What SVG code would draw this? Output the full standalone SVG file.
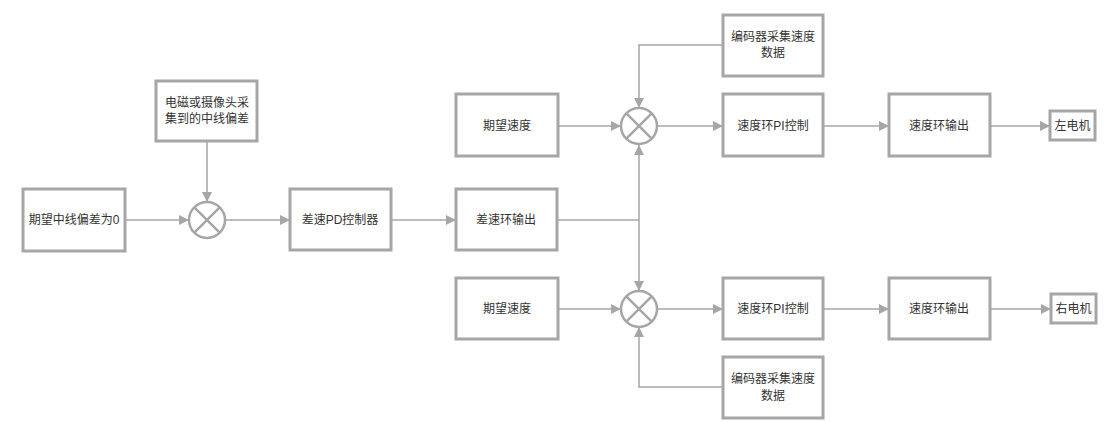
<svg xmlns="http://www.w3.org/2000/svg" width="1120" height="422" viewBox="0 0 1120 422">
<style>
.box{fill:#fff;stroke:#a6a6a6;stroke-width:3}
.sum{fill:#fff;stroke:#a6a6a6;stroke-width:2.5}
.x{stroke:#a6a6a6;stroke-width:2.5}
.t{font-family:"Liberation Sans","Noto Sans CJK SC",sans-serif;font-size:12px;fill:#333;text-anchor:middle;dominant-baseline:central}
.c{fill:none;stroke:#a6a6a6;stroke-width:1.5}
</style>
<defs>
<marker id="ah" viewBox="0 0 10 10" refX="10" refY="5" markerWidth="10" markerHeight="10" markerUnits="userSpaceOnUse" orient="auto">
<path d="M0,0 L10,5 L0,10 Z" fill="#a6a6a6"/>
</marker>
</defs>
<rect width="1120" height="422" fill="#fff"/>
<g id="connectors">
<path class="c" d="M125,220 H189" marker-end="url(#ah)"/>
<path class="c" d="M207,141 V202" marker-end="url(#ah)"/>
<path class="c" d="M225,220 H290" marker-end="url(#ah)"/>
<path class="c" d="M391,220 H456" marker-end="url(#ah)"/>
<path class="c" d="M557,220 H639"/>
<path class="c" d="M639,220 V145" marker-end="url(#ah)"/>
<path class="c" d="M639,220 V291" marker-end="url(#ah)"/>
<path class="c" d="M558,126 H621" marker-end="url(#ah)"/>
<path class="c" d="M723,45 H639 V108" marker-end="url(#ah)"/>
<path class="c" d="M657,126 H723" marker-end="url(#ah)"/>
<path class="c" d="M823,126 H889" marker-end="url(#ah)"/>
<path class="c" d="M990,126 H1050" marker-end="url(#ah)"/>
<path class="c" d="M558,309 H621" marker-end="url(#ah)"/>
<path class="c" d="M723,387 H639 V327" marker-end="url(#ah)"/>
<path class="c" d="M657,309 H723" marker-end="url(#ah)"/>
<path class="c" d="M823,309 H889" marker-end="url(#ah)"/>
<path class="c" d="M990,309 H1051" marker-end="url(#ah)"/>
</g>
<g id="n-expect0"><rect class="box" x="23" y="189" width="102" height="62"/><text class="t" x="74" y="220">期望中线偏差为0</text></g>
<g id="n-sensor"><rect class="box" x="156" y="81" width="101" height="60"/><text class="t" x="207" y="103">电磁或摄像头采</text><text class="t" x="207" y="119">集到的中线偏差</text></g>
<g id="n-sum1"><circle class="sum" cx="207" cy="220" r="18"/><path class="x" d="M194.3,207.3 L219.7,232.7 M219.7,207.3 L194.3,232.7"/></g>
<g id="n-pd"><rect class="box" x="290" y="189" width="101" height="61"/><text class="t" x="340" y="220">差速PD控制器</text></g>
<g id="n-diffout"><rect class="box" x="456" y="189" width="101" height="61"/><text class="t" x="506" y="220">差速环输出</text></g>
<g id="n-speed1"><rect class="box" x="456" y="94" width="102" height="62"/><text class="t" x="507" y="126">期望速度</text></g>
<g id="n-enc1"><rect class="box" x="723" y="15" width="100" height="61"/><text class="t" x="773" y="37">编码器采集速度</text><text class="t" x="773" y="53">数据</text></g>
<g id="n-sum2"><circle class="sum" cx="639" cy="126" r="18"/><path class="x" d="M626.3,113.3 L651.7,138.7 M651.7,113.3 L626.3,138.7"/></g>
<g id="n-pi1"><rect class="box" x="723" y="94" width="100" height="62"/><text class="t" x="773" y="126">速度环PI控制</text></g>
<g id="n-out1"><rect class="box" x="889" y="94" width="101" height="62"/><text class="t" x="939" y="126">速度环输出</text></g>
<g id="n-left"><rect class="box" x="1050" y="111" width="45" height="29"/><text class="t" x="1072.5" y="126">左电机</text></g>
<g id="n-speed2"><rect class="box" x="456" y="278" width="102" height="61"/><text class="t" x="507" y="309">期望速度</text></g>
<g id="n-sum3"><circle class="sum" cx="639" cy="309" r="18"/><path class="x" d="M626.3,296.3 L651.7,321.7 M651.7,296.3 L626.3,321.7"/></g>
<g id="n-pi2"><rect class="box" x="723" y="278" width="100" height="61"/><text class="t" x="773" y="309">速度环PI控制</text></g>
<g id="n-enc2"><rect class="box" x="723" y="357" width="100" height="61"/><text class="t" x="773" y="379">编码器采集速度</text><text class="t" x="773" y="396">数据</text></g>
<g id="n-out2"><rect class="box" x="889" y="278" width="101" height="61"/><text class="t" x="939" y="309">速度环输出</text></g>
<g id="n-right"><rect class="box" x="1051" y="294" width="45" height="29"/><text class="t" x="1073.5" y="309">右电机</text></g>
</svg>
